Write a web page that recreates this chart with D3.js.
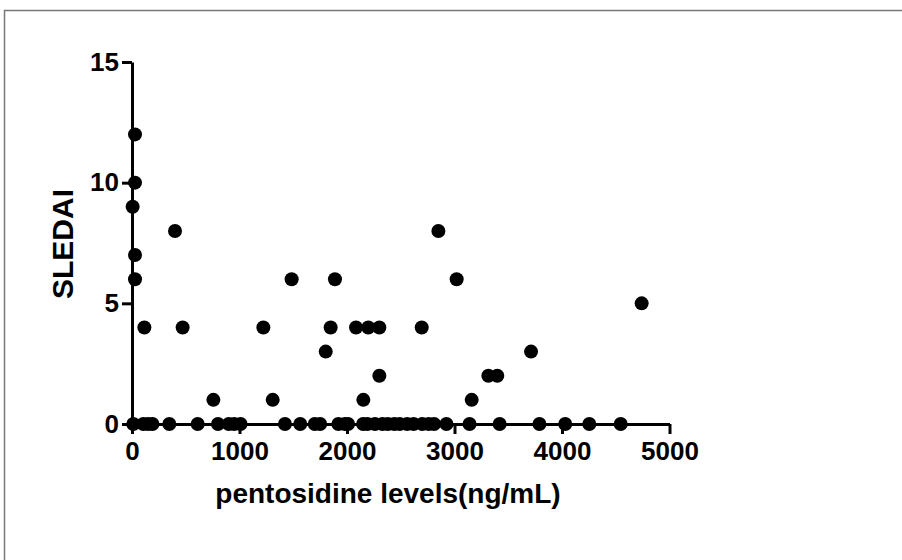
<!DOCTYPE html>
<meta charset="utf-8">
<script src="https://d3js.org/d3.v7.min.js"></script>
<style>
  body { margin: 0; background: #fff; }
  text { font-family: "Liberation Sans", Arial, sans-serif; font-weight: bold; fill: #000; }
</style>
<div id="chart"></div>
<script>

    // pentosidine (ng/mL) vs SLEDAI score, one entry per patient
    const pentosidine = [28, 28, 6, 28, 28, 400, 115, 471, 757, 1222, 1309, 1485, 1888, 1848, 1802,
        2084, 2198, 2301, 2301, 2152, 2850, 3020, 2695, 3712, 3315, 3398, 3160, 4741,
        12, 105, 150, 190, 347, 611, 800, 900, 950, 1010, 1423, 1565, 1700, 1750, 1920, 1980,
        2010, 2150, 2190, 2260, 2330, 2380, 2440, 2490, 2560, 2620, 2700, 2760, 2810, 2925,
        3140, 3420, 3790, 4030, 4254, 4546];
    const sledai = [12, 10, 9, 7, 6, 8, 4, 4, 1, 4, 1, 6, 6, 4, 3,
        4, 4, 4, 2, 1, 8, 6, 4, 3, 2, 2, 1, 5,
        0, 0, 0, 0, 0, 0, 0, 0, 0, 0, 0, 0, 0, 0, 0, 0,
        0, 0, 0, 0, 0, 0, 0, 0, 0, 0, 0, 0, 0, 0,
        0, 0, 0, 0, 0, 0];

    const xTicks = [0, 1000, 2000, 3000, 4000, 5000];
    const yTicks = [0, 5, 10, 15];

    const W = 902, H = 560;
    const svg = d3.select("#chart").append("svg")
        .attr("width", W)
        .attr("height", H);

    // frame (only top and left edges show in the figure)
    svg.append("path")
        .attr("d", `M4.5,${H} V10.5 H${W}`)
        .attr("fill", "none")
        .attr("stroke", "#777")
        .attr("stroke-width", 1.5);

    const x = d3.scaleLinear().domain([0, 5000]).range([132, 669.5]);
    const y = d3.scaleLinear().domain([0, 15]).range([424, 62]);

    const xAxis = svg.append("g")
        .attr("transform", `translate(0,${y(0)})`)
        .call(d3.axisBottom(x).tickValues(xTicks).tickFormat(d3.format("d"))
            .tickSize(10).tickSizeOuter(0).tickPadding(8));

    const yAxis = svg.append("g")
        .attr("transform", `translate(${x(0)},0)`)
        .call(d3.axisLeft(y).tickValues(yTicks).tickFormat(d3.format("d"))
            .tickSize(10).tickSizeOuter(0).tickPadding(3));

    [xAxis, yAxis].forEach(function (g) {
        g.select(".domain").attr("stroke", "#000").attr("stroke-width", 3);
        g.selectAll(".tick line").attr("stroke", "#000").attr("stroke-width", 3);
        g.selectAll(".tick text").style("font-size", "26px").style("font-weight", "bold");
    });

    // points
    svg.append("g").selectAll("circle")
        .data(pentosidine.map(function (v, i) { return [v, sledai[i]]; }))
        .join("circle")
        .attr("cx", function (d) { return x(d[0]); })
        .attr("cy", function (d) { return y(d[1]); })
        .attr("r", 7)
        .attr("fill", "#000");

    // axis titles
    svg.append("text")
        .attr("x", 388)
        .attr("y", 503)
        .attr("text-anchor", "middle")
        .style("font-size", "28px")
        .text("pentosidine levels(ng/mL)");

    svg.append("text")
        .attr("transform", "translate(73,244) rotate(-90)")
        .attr("text-anchor", "middle")
        .style("font-size", "30px")
        .text("SLEDAI");

</script>
